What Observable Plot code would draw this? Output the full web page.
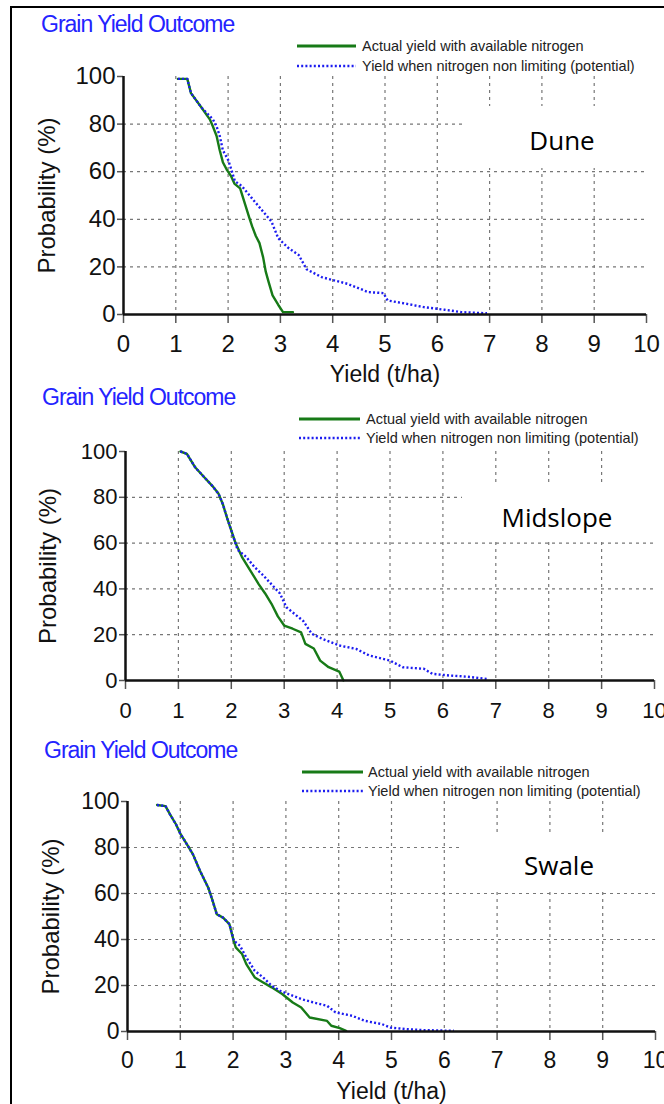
<!DOCTYPE html>
<html>
<head>
<meta charset="utf-8">
<script src="https://cdn.jsdelivr.net/npm/d3@7"></script>
<script src="https://cdn.jsdelivr.net/npm/@observablehq/plot@0.6"></script>
<style>
  html, body { margin: 0; padding: 0; background: #fff; }
  #root { position: relative; width: 664px; height: 1104px; overflow: hidden; background: #fff;
          font-family: "Liberation Sans", Arial, sans-serif; }
  .frame { position: absolute; left: 10px; top: 6px; width: 800px; height: 1300px;
           border-left: 2px solid #000; border-top: 2px solid #000; }
  .panel { position: absolute; left: 0; }
  .title { position: absolute; color: #2323ff; font-size: 23px; line-height: 23px;
           letter-spacing: -1px; white-space: nowrap; }
  .legtext { position: absolute; font-size: 14.5px; line-height: 14.5px; color: #222; white-space: nowrap; }
  .swatch { position: absolute; }
  .sitebox { position: absolute; background: #fff; }
  .site { position: absolute; font-family: "Open Sans", sans-serif; font-size: 26px; line-height: 26px;
          color: #000; transform: translate(-50%, -50%); white-space: nowrap; }
</style>
</head>
<body>
<div id="root"></div>
<script>
// ---------- data ----------
const xTicks = [0, 1, 2, 3, 4, 5, 6, 7, 8, 9, 10];
const yTicks = [0, 20, 40, 60, 80, 100];
const gridX = [1, 2, 3, 4, 5, 6, 7, 8, 9];
const gridY = [20, 40, 60, 80];
const titleText = "Grain Yield Outcome";
const legendActual = "Actual yield with available nitrogen";
const legendPotential = "Yield when nitrogen non limiting (potential)";
const xLabel = "Yield (t/ha)";
const yLabel = "Probability (%)";
const siteNames = ["Dune", "Midslope", "Swale"];

// Dune
const duneActualX = [1.04,1.22,1.29,1.49,1.65,1.71,1.78,1.84,1.90,1.97,2.06,2.12,2.23,2.33,2.40,2.46,2.53,2.60,2.67,2.72,2.77,2.85,2.96,3.05,3.24];
const duneActualY = [99,99,93,87,82,79,75,69,64,61,58,55,53,46,41,37,33,30,24,18,14,8,4,1,1];
const dunePotX = [1.04,1.22,1.29,1.49,1.71,1.78,1.84,1.90,2.00,2.06,2.13,2.26,2.45,2.64,2.83,2.96,3.15,3.35,3.50,3.79,4.28,4.68,4.97,5.05,5.41,5.74,6.14,6.46,6.95];
const dunePotY = [99,99,93,87,82,79,75,69,65,61,56,54,49,44,39,32,28,25,19,15.7,12.9,9.4,9,5.9,4.5,3.1,2,1,0.5];

// Midslope
const midActualX = [1.04,1.16,1.32,1.48,1.64,1.76,1.84,1.92,2.00,2.08,2.20,2.36,2.52,2.64,2.76,2.88,3.00,3.16,3.32,3.40,3.56,3.68,3.84,4.04,4.12];
const midActualY = [100,99,93,89,85,81.5,77,71,65.5,60,54,48,42,38,33.5,28,24,22.6,21,16,14,8.7,5.8,3.9,0];
const midPotX = [1.04,1.16,1.32,1.48,1.64,1.76,1.84,1.92,2.00,2.12,2.28,2.44,2.60,2.76,2.92,3.04,3.20,3.36,3.52,3.72,4.04,4.36,4.60,5.00,5.24,5.64,5.80,6.12,6.44,6.84];
const midPotY = [100,99,93,89,85,81.5,77,71,65.5,57,54,49.5,46,42,38,32,29,26,20.4,18.2,15.3,13.8,11,8.7,5.8,5.1,2.9,2.2,1.7,0.7];

// Swale
const swaleActualX = [0.56,0.72,0.80,0.92,1.00,1.12,1.24,1.37,1.53,1.61,1.69,1.81,1.93,2.01,2.05,2.17,2.25,2.41,2.57,2.73,2.93,3.13,3.29,3.45,3.78,3.86,4.02,4.14];
const swaleActualY = [98.5,98,94.6,90,86,81.6,77,70,62.5,57,51,49.5,46.7,39.5,36.6,33.7,29.3,23.5,21.3,19.2,16.3,12.6,10.4,6.1,4.6,2.5,1.5,0.3];
const swalePotX = [0.56,0.72,0.80,0.92,1.00,1.12,1.24,1.37,1.53,1.61,1.69,1.81,1.93,2.01,2.13,2.25,2.41,2.57,2.73,2.89,3.05,3.29,3.53,3.78,3.94,4.26,4.50,4.82,4.98,5.30,5.62,6.18];
const swalePotY = [98.5,98,94.6,90,86,81.6,77,70,62.5,57,51,49.5,46.7,39.5,37.3,32.2,26.4,23.5,19.9,17.7,16.3,14.1,12.6,11.2,8.3,6.8,4.6,3.2,1.7,1,0.6,0.3];

// ---------- styling / layout ----------
const GREEN = "#177a17";
const BLUE = "#1c1cf0";
const DOTS = "2,2.2";
const zip = (xs, ys) => xs.map((x, i) => ({x, y: ys[i]}));

const panels = [
  { site: siteNames[0], actual: zip(duneActualX, duneActualY), pot: zip(dunePotX, dunePotY),
    top: 70, height: 320, mt: 6, mb: 76, ml: 123, mr: 18, fs: 24, tp: 11, ylx: -76, showX: true, xdy: 60,
    title: {left: 41, top: 13}, leg: {x1: 297, x2: 356, y1: 46, y2: 66, tx: 362},
    box: {left: 466, top: 106, w: 198, h: 62, cx: 562, cy: 140} },
  { site: siteNames[1], actual: zip(midActualX, midActualY), pot: zip(midPotX, midPotY),
    top: 440, height: 290, mt: 11, mb: 50, ml: 125, mr: 10, fs: 22, tp: 13, ylx: -77, showX: false, xdy: 60,
    title: {left: 42, top: 386}, leg: {x1: 299, x2: 360, y1: 419, y2: 438, tx: 366},
    box: {left: 462, top: 485, w: 202, h: 55, cx: 557, cy: 517} },
  { site: siteNames[2], actual: zip(swaleActualX, swaleActualY), pot: zip(swalePotX, swalePotY),
    top: 795, height: 305, mt: 6, mb: 69, ml: 127, mr: 9, fs: 23, tp: 11, ylx: -76, showX: true, xdy: 60,
    title: {left: 44, top: 739}, leg: {x1: 302, x2: 363, y1: 772, y2: 791, tx: 368},
    box: {left: 462, top: 832, w: 202, h: 57, cx: 559, cy: 865} }
];

const root = document.getElementById("root");
const frame = document.createElement("div");
frame.className = "frame";
root.appendChild(frame);

function el(tag, cls, styles, text) {
  const e = document.createElement(tag);
  if (cls) e.className = cls;
  Object.assign(e.style, styles || {});
  if (text != null) e.textContent = text;
  root.appendChild(e);
  return e;
}

function swatch(x1, x2, y, color, dash) {
  const ns = "http://www.w3.org/2000/svg";
  const s = document.createElementNS(ns, "svg");
  s.setAttribute("width", x2 - x1);
  s.setAttribute("height", 6);
  s.setAttribute("class", "swatch");
  s.style.left = x1 + "px";
  s.style.top = (y - 3) + "px";
  const l = document.createElementNS(ns, "line");
  l.setAttribute("x1", 0); l.setAttribute("x2", x2 - x1);
  l.setAttribute("y1", 3); l.setAttribute("y2", 3);
  l.setAttribute("stroke", color);
  l.setAttribute("stroke-width", dash ? 2.5 : 3);
  if (dash) l.setAttribute("stroke-dasharray", dash);
  s.appendChild(l);
  root.appendChild(s);
}

for (const p of panels) {
  const marks = [
    Plot.ruleX(gridX, {stroke: "#777", strokeWidth: 1.2, strokeDasharray: "3,4"}),
    Plot.ruleY(gridY, {stroke: "#777", strokeWidth: 1.2, strokeDasharray: "3,4"}),
    Plot.line(p.actual, {x: "x", y: "y", stroke: GREEN, strokeWidth: 2.4}),
    Plot.line(p.pot, {x: "x", y: "y", stroke: BLUE, strokeWidth: 2.4, strokeDasharray: DOTS, strokeLinecap: "butt"}),
    Plot.axisX({ticks: xTicks, tickSize: 9, tickPadding: p.tp, fontSize: p.fs, label: null, stroke: "#555", strokeWidth: 1.5}),
    Plot.axisY({ticks: yTicks, tickSize: 6, tickPadding: 2, fontSize: p.fs, label: null, stroke: "#555", strokeWidth: 1.5}),
    Plot.ruleX([0], {stroke: "#111", strokeWidth: 2.5}),
    Plot.ruleY([0], {stroke: "#111", strokeWidth: 2.5}),
    Plot.text([yLabel], {frameAnchor: "left", dx: p.ylx, rotate: -90, fontSize: 24, fill: "#111",
                         textAnchor: "middle", lineAnchor: "middle"})
  ];
  if (p.showX) marks.push(Plot.text([xLabel], {frameAnchor: "bottom", dy: p.xdy, fontSize: 23, fill: "#111",
                                               textAnchor: "middle", lineAnchor: "middle"}));

  const svg = Plot.plot({
    width: 664,
    height: p.height,
    marginLeft: p.ml, marginRight: p.mr, marginTop: p.mt, marginBottom: p.mb,
    style: {background: "transparent", overflow: "visible", fontFamily: "'Liberation Sans', Arial, sans-serif", color: "#111"},
    x: {domain: [0, 10]},
    y: {domain: [0, 100]},
    marks
  });
  const wrap = el("div", "panel", {top: p.top + "px"});
  wrap.appendChild(svg);

  // title
  el("div", "title", {left: p.title.left + "px", top: p.title.top + "px"}, titleText);
  // legend
  swatch(p.leg.x1, p.leg.x2, p.leg.y1, GREEN, null);
  swatch(p.leg.x1, p.leg.x2, p.leg.y2, BLUE, DOTS);
  el("div", "legtext", {left: p.leg.tx + "px", top: (p.leg.y1 - 7) + "px"}, legendActual);
  el("div", "legtext", {left: p.leg.tx + "px", top: (p.leg.y2 - 7) + "px"}, legendPotential);
  // site label box
  el("div", "sitebox", {left: p.box.left + "px", top: p.box.top + "px", width: p.box.w + "px", height: p.box.h + "px"});
  el("div", "site", {left: p.box.cx + "px", top: p.box.cy + "px"}, p.site);
}
</script>
</body>
</html>
